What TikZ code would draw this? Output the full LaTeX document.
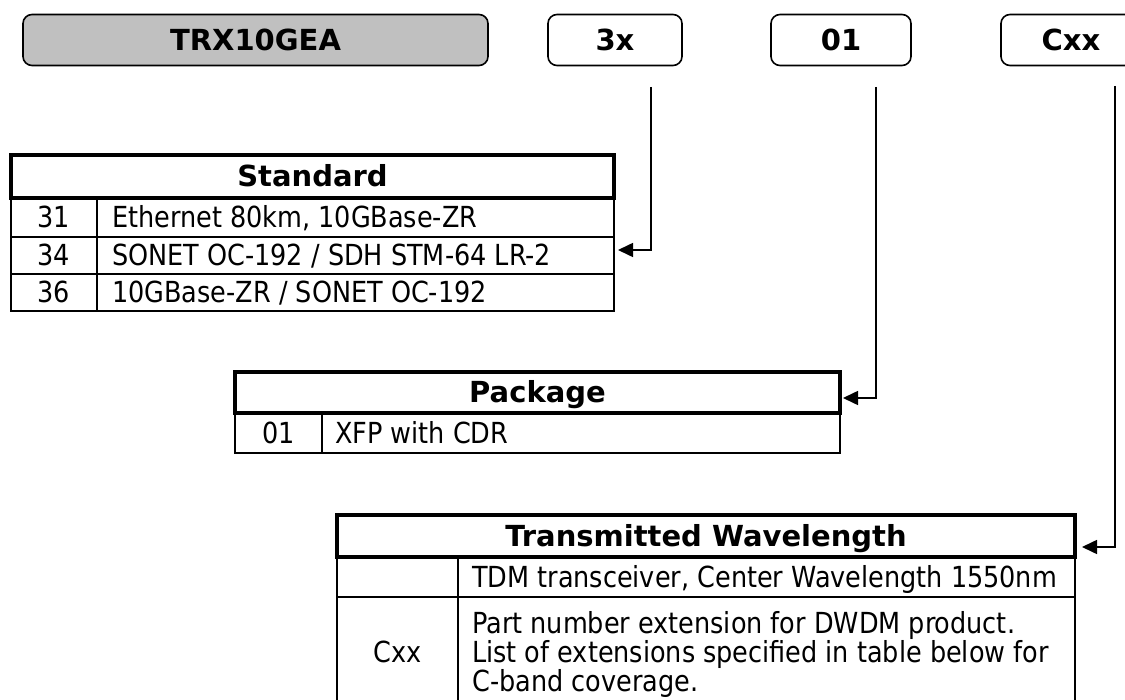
\documentclass[tikz,border=0pt]{standalone}
\usepackage{fontspec}
\usetikzlibrary{arrows.meta}
\newfontfamily\hdfont{DejaVu Sans}
\newfontfamily\bdfont{DejaVu Sans}[FakeStretch=0.88]
\definecolor{boxgray}{RGB}{192,192,192}
\begin{document}
\begin{tikzpicture}[x=1pt,y=-1pt,
  hd/.style={font=\hdfont\bfseries\fontsize{29}{34}\selectfont},
  bd/.style={font=\bdfont\fontsize{29}{34}\selectfont, inner sep=0pt},
  topbox/.style={draw, line width=1.6pt, rounded corners=9pt, minimum height=51pt, inner sep=0pt, text height=21pt, text depth=0pt, hd},
  hdrbox/.style={draw, line width=4pt, inner sep=0pt, text height=21pt, text depth=0pt, hd},
  cell/.style={draw, line width=1.8pt},
  conn/.style={line width=1.6pt, -{Triangle[length=15pt,width=14pt]}}]
\useasboundingbox (0,0) rectangle (1125,700);

% top part-number boxes
\node[topbox, fill=boxgray, minimum width=465pt] (trx) at (255.5,40) {TRX10GEA};
\node[topbox, minimum width=134pt] (b3x) at (615,40) {3x};
\node[topbox, minimum width=140pt] (b01) at (841,40) {01};
\node[topbox, minimum width=140pt] (bcxx) at (1071,40) {Cxx};

% Standard table
\draw[cell] (11,198) rectangle (614,237);
\draw[cell] (11,237) rectangle (614,274);
\draw[cell] (11,274) rectangle (614,311);
\draw[cell] (97,198) -- (97,311);
\node[hdrbox, minimum width=603pt, minimum height=43pt] (stdh) at (312.5,176.5) {Standard};
\node[bd, anchor=base] (s31) at (54,228) {31};
\node[bd, anchor=base west] (s31t) at (112,228) {Ethernet 80km, 10GBase-ZR};
\node[bd, anchor=base] (s34) at (54,266) {34};
\node[bd, anchor=base west] (s34t) at (112,266) {SONET OC-192 / SDH STM-64 LR-2};
\node[bd, anchor=base] (s36) at (54,303) {36};
\node[bd, anchor=base west] (s36t) at (112,303) {10GBase-ZR / SONET OC-192};

% Package table
\draw[cell] (235,413) rectangle (840,453);
\draw[cell] (322,413) -- (322,453);
\node[hdrbox, minimum width=605pt, minimum height=41pt] (pkgh) at (537.5,392.5) {Package};
\node[bd, anchor=base] (p01) at (278.5,443.5) {01};
\node[bd, anchor=base west] (p01t) at (335,443.5) {XFP with CDR};

% Transmitted Wavelength table
\draw[cell] (337,557) rectangle (1075,597);
\draw[cell] (337,597) rectangle (1075,720);
\draw[cell] (458,557) -- (458,720);
\node[hdrbox, minimum width=738pt, minimum height=42pt] (twh) at (706,536) {Transmitted Wavelength};
\node[bd, anchor=base west] (tw1) at (472,587.5) {TDM transceiver, Center Wavelength 1550nm};
\node[bd, anchor=base] (cxx) at (397.5,662.5) {Cxx};
\node[bd, anchor=base west] (tw2a) at (472,633.5) {Part number extension for DWDM product.};
\node[bd, anchor=base west] (tw2b) at (472,662.5) {List of extensions specified in table below for};
\node[bd, anchor=base west] (tw2c) at (472,691.5) {C-band coverage.};

% connectors
\coordinate (a3s) at (651,87);
\coordinate (a3e) at (618,250);
\coordinate (a01s) at (876,87);
\coordinate (a01e) at (843,398);
\coordinate (acs) at (1115,86);
\coordinate (ace) at (1082,547);
\draw[conn] (a3s) |- (a3e);
\draw[conn] (a01s) |- (a01e);
\draw[conn] (acs) |- (ace);
\end{tikzpicture}
\end{document}
